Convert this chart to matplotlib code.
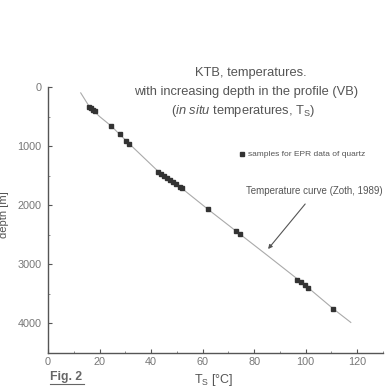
import matplotlib
matplotlib.use("Agg")
import matplotlib.pyplot as plt
from matplotlib.ticker import MultipleLocator

plt.rcParams['font.family'] = ['Liberation Sans', 'DejaVu Sans']
plt.rcParams['mathtext.fontset'] = 'custom'
plt.rcParams['mathtext.rm'] = 'Liberation Sans'
plt.rcParams['mathtext.it'] = 'Liberation Sans:italic'

# EPR sample points: temperature T_S [°C] and depth [m]
sample_temp = [15.9, 16.7, 17.5, 18.3, 24.5, 28.0, 30.3, 31.5,
               42.7, 43.9, 45.0, 46.2, 47.4, 48.5, 49.7, 51.3, 52.0,
               62.1, 73.0, 74.6, 96.7, 98.3, 99.8, 101.0, 110.7]
sample_depth = [339, 356, 390, 407, 661, 797, 915, 966,
                1441, 1475, 1508, 1542, 1576, 1610, 1644, 1695, 1712,
                2068, 2440, 2490, 3271, 3305, 3356, 3407, 3763]

# Temperature curve (Zoth, 1989)
curve_temp = [12.7, 16.0, 20.0, 24.5, 31.0, 37.0, 43.0, 52.0, 62.0, 73.5, 85.0, 99.0, 110.7, 117.5]
curve_depth = [100, 330, 500, 660, 940, 1190, 1440, 1720, 2070, 2460, 2850, 3330, 3760, 3990]

xticks = [0, 20, 40, 60, 80, 100, 120]
yticks = [0, 1000, 2000, 3000, 4000]

fig = plt.figure(figsize=(3.86, 3.90), dpi=100)
fig.patch.set_facecolor('white')
ax = fig.add_axes([48/386, (390-352.5)/390, 335/386, 265.5/390])
ax.set_facecolor('none')

ax.plot(curve_temp, curve_depth, color='#aaaaaa', lw=0.8, zorder=1)
ax.plot(sample_temp, sample_depth, ls='none', marker='s', ms=3.2,
        color='#333333', zorder=2)

ax.set_xlim(0, 130)
ax.set_ylim(4500, 0)
ax.set_xticks(xticks)
ax.set_yticks(yticks)
ax.xaxis.set_minor_locator(MultipleLocator(10))
ax.yaxis.set_minor_locator(MultipleLocator(500))
for s in ['top', 'right']:
    ax.spines[s].set_visible(False)
for s in ['left', 'bottom']:
    ax.spines[s].set_color('#555555')
    ax.spines[s].set_linewidth(1.0)
ax.tick_params(which='major', direction='in', length=3, width=0.8,
               colors='#555555', labelsize=7.8, labelcolor='#777777')
ax.tick_params(axis='y', which='major', pad=4.5)
ax.tick_params(axis='x', which='major', pad=3)
ax.tick_params(which='minor', direction='in', length=1.5, width=0.6, colors='#777777')

ax.set_ylabel('depth [m]', fontsize=8, color='#555555')
ax.yaxis.set_label_coords(-0.115, 0.52)
fig.text(214/386, 1 - 380/390, r'T$_\mathregular{S}$ [°C]', fontsize=9,
         color='#555555', ha='center', va='center')
fig.text(50/386, 1 - 377/390, 'Fig. 2', fontsize=8.8, fontweight='bold',
         color='#666666', ha='left', va='center')
fig.add_artist(plt.Line2D([50/386, 84/386], [1 - 384/390, 1 - 384/390],
                          color='#666666', lw=0.8))

# Title
fs_t = 9.3
fig.text(251/386, 1 - 73/390, 'KTB, temperatures.', fontsize=fs_t,
         color='#555555', ha='center', va='center')
fig.text(246/386, 1 - 92/390, 'with increasing depth in the profile (VB)',
         fontsize=fs_t, color='#555555', ha='center', va='center')
fig.text(243/386, 1 - 111/390,
         r'($\mathit{in\ situ}$ temperatures, T$_\mathregular{S}$)',
         fontsize=fs_t, color='#555555', ha='center', va='center')

# Legend-like annotations
ax.plot([75.2], [1140], ls='none', marker='s', ms=2.8, color='#333333')
ax.text(77.8, 1140, 'samples for EPR data of quartz', fontsize=6.0,
        color='#555555', ha='left', va='center')
ax.text(76.7, 1760, 'Temperature curve (Zoth, 1989)', fontsize=7,
        color='#555555', ha='left', va='center')
ax.annotate('', xy=(85.4, 2746), xytext=(99.8, 1983),
            arrowprops=dict(arrowstyle='-|>', color='#555555', lw=0.8,
                            mutation_scale=6, shrinkA=0, shrinkB=0))

fig.savefig('out.png', dpi=100)
